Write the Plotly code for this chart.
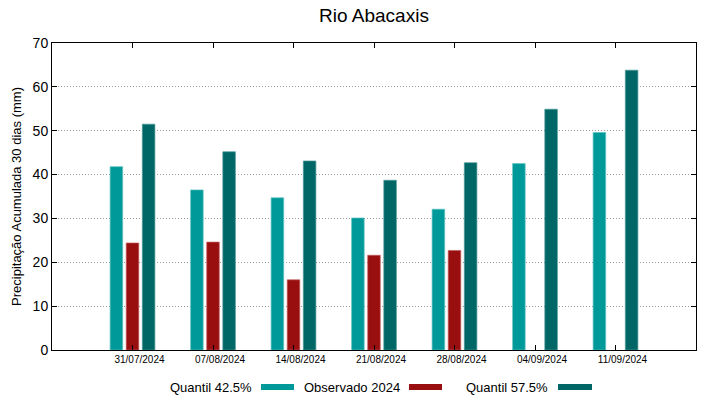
import plotly.graph_objects as go

dates = ["31/07/2024", "07/08/2024", "14/08/2024", "21/08/2024",
         "28/08/2024", "04/09/2024", "11/09/2024"]
q425 = [41.8, 36.5, 34.7, 30.1, 32.1, 42.5, 49.6]
obs2024 = [24.4, 24.6, 16.0, 21.6, 22.7, None, None]
q575 = [51.5, 45.2, 43.1, 38.7, 42.7, 54.9, 63.8]

names = ["Quantil 42.5%", "Observado 2024", "Quantil 57.5%"]
colors = ["#009999", "#990f0f", "#006666"]
edges = ["#5cc2c2", "#c25c5c", "#4d9a9a"]

idx = list(range(len(dates)))
fig = go.Figure()
for name, vals, c, e in zip(names, [q425, obs2024, q575], colors, edges):
    fig.add_trace(go.Bar(x=idx, y=vals, name=name, marker_color=c,
                         marker_line=dict(color=e, width=0.7), showlegend=False))

FONT = "Liberation Sans, Arial, sans-serif"
fig.update_layout(
    width=719, height=399,
    margin=dict(l=52, r=23, t=43, b=49),
    paper_bgcolor="white", plot_bgcolor="white",
    barmode="group", bargap=0.4, bargroupgap=0.22,
    font=dict(family=FONT, color="black"),
    title=dict(text="Rio Abacaxis", xref="paper", x=0.5, xanchor="center",
               y=0.962, yanchor="middle", font=dict(size=19, family=FONT)),
    xaxis=dict(range=[-1, 7], tickvals=idx, ticktext=dates,
               tickfont=dict(size=10), ticks="inside", ticklen=5, tickcolor="black",
               showline=True, linecolor="black", linewidth=1, mirror="ticks",
               showgrid=False, zeroline=False, ticklabelshift=7),
    yaxis=dict(range=[0, 70], dtick=10, tickfont=dict(size=14),
               ticks="inside", ticklen=5, tickcolor="black",
               showline=True, linecolor="black", linewidth=1, mirror="ticks",
               showgrid=True, gridcolor="#999999", griddash="1px,2px", gridwidth=1,
               zeroline=False,
               title=dict(text="Precipitação Acumulada 30 dias (mm)",
                          font=dict(size=13), standoff=8)),
)

# gnuplot-style legend: text followed by a sample swatch
legend_items = [(254, 261, 294), (402, 409, 442), (550, 558, 592)]
pw, ph, x0p, y0p = 644, 307, 52, 350
for (tx, s0, s1), name, c in zip(legend_items, names, colors):
    fig.add_annotation(x=(tx - x0p) / pw, y=(y0p - 387) / ph, xref="paper", yref="paper",
                       text=name, showarrow=False, xanchor="right", yanchor="middle",
                       font=dict(size=13, family=FONT))
    fig.add_shape(type="rect", xref="paper", yref="paper",
                  x0=(s0 - x0p) / pw, x1=(s1 - x0p) / pw,
                  y0=(y0p - 390) / ph, y1=(y0p - 384) / ph,
                  fillcolor=c, line=dict(width=0))

fig.write_html("out.html", config={"displayModeBar": False},
               post_script="document.body.style.margin='0';")
